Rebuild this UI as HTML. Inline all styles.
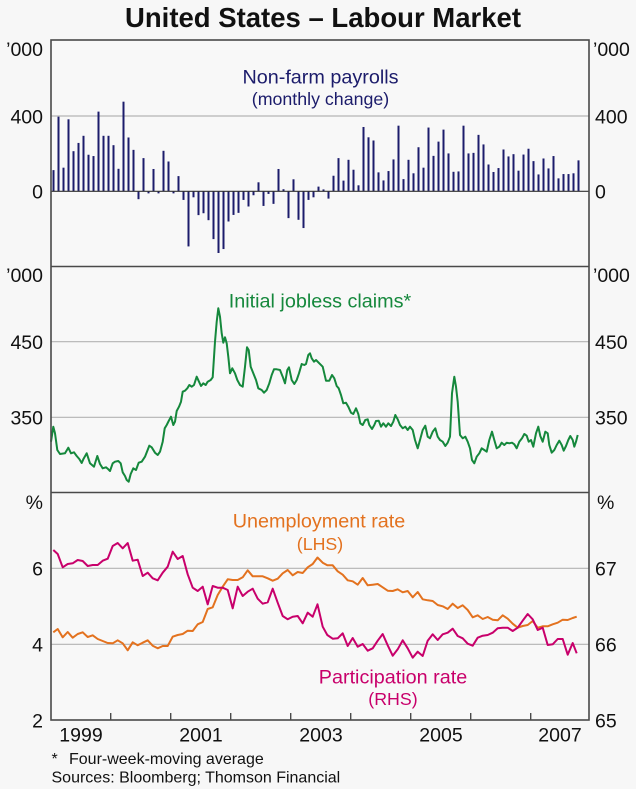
<!DOCTYPE html>
<html>
<head>
<meta charset="utf-8">
<style>
html,body{margin:0;padding:0;background:#f7f7f7;}
svg{display:block;}
text{font-family:"Liberation Sans",Arial,sans-serif;}
</style>
</head>
<body>
<svg width="636" height="789" viewBox="0 0 636 789" xmlns="http://www.w3.org/2000/svg">
<rect x="0" y="0" width="636" height="789" fill="#f7f7f7"/>
<rect x="51" y="40" width="538" height="680" fill="#f8f8f8"/>
<text x="323" y="27" font-size="27.5" font-weight="bold" text-anchor="middle" fill="#111" textLength="396" lengthAdjust="spacingAndGlyphs">United States – Labour Market</text>
<g stroke="#b4b4b4" stroke-width="1.2">
<line x1="51" y1="116" x2="589" y2="116"/>
<line x1="51" y1="341.7" x2="589" y2="341.7"/>
<line x1="51" y1="417.3" x2="589" y2="417.3"/>
<line x1="51" y1="568.3" x2="589" y2="568.3"/>
<line x1="51" y1="644.3" x2="589" y2="644.3"/>
</g>
<g fill="#1c1c6b" transform="translate(0,191.3) scale(1,-0.1875)">
<rect x="52.5" y="0" width="2" height="113"/>
<rect x="57.5" y="0" width="2" height="398"/>
<rect x="62.5" y="0" width="2" height="126"/>
<rect x="67.5" y="0" width="2" height="384"/>
<rect x="72.5" y="0" width="2" height="214"/>
<rect x="77.5" y="0" width="2" height="258"/>
<rect x="82.5" y="0" width="2" height="296"/>
<rect x="87.5" y="0" width="2" height="195"/>
<rect x="92.5" y="0" width="2" height="188"/>
<rect x="97.5" y="0" width="2" height="425"/>
<rect x="102.5" y="0" width="2" height="296"/>
<rect x="107.5" y="0" width="2" height="296"/>
<rect x="112.5" y="0" width="2" height="246"/>
<rect x="117.5" y="0" width="2" height="120"/>
<rect x="122.5" y="0" width="2" height="478"/>
<rect x="127.5" y="0" width="2" height="287"/>
<rect x="132.5" y="0" width="2" height="221"/>
<rect x="137.5" y="-42" width="2" height="42"/>
<rect x="142.5" y="0" width="2" height="177"/>
<rect x="147.5" y="-11" width="2" height="11"/>
<rect x="152.5" y="0" width="2" height="119"/>
<rect x="157.5" y="-11" width="2" height="11"/>
<rect x="162.5" y="0" width="2" height="216"/>
<rect x="167.5" y="0" width="2" height="159"/>
<rect x="172.5" y="-11" width="2" height="11"/>
<rect x="177.5" y="0" width="2" height="81"/>
<rect x="182.5" y="-46" width="2" height="46"/>
<rect x="187.5" y="-294" width="2" height="294"/>
<rect x="192.5" y="-32" width="2" height="32"/>
<rect x="197.5" y="-127" width="2" height="127"/>
<rect x="202.5" y="-117" width="2" height="117"/>
<rect x="207.5" y="-154" width="2" height="154"/>
<rect x="212.5" y="-255" width="2" height="255"/>
<rect x="217.5" y="-329" width="2" height="329"/>
<rect x="222.5" y="-308" width="2" height="308"/>
<rect x="227.5" y="-161" width="2" height="161"/>
<rect x="232.5" y="-126" width="2" height="126"/>
<rect x="237.5" y="-115" width="2" height="115"/>
<rect x="242.5" y="-46" width="2" height="46"/>
<rect x="247.5" y="-81" width="2" height="81"/>
<rect x="252.5" y="-21" width="2" height="21"/>
<rect x="257.5" y="0" width="2" height="48"/>
<rect x="262.5" y="-78" width="2" height="78"/>
<rect x="267.5" y="-14" width="2" height="14"/>
<rect x="272.5" y="-67" width="2" height="67"/>
<rect x="277.5" y="0" width="2" height="119"/>
<rect x="282.5" y="0" width="2" height="11"/>
<rect x="287.5" y="-143" width="2" height="143"/>
<rect x="292.5" y="0" width="2" height="64"/>
<rect x="297.5" y="-152" width="2" height="152"/>
<rect x="302.5" y="-196" width="2" height="196"/>
<rect x="307.5" y="-46" width="2" height="46"/>
<rect x="312.5" y="-32" width="2" height="32"/>
<rect x="317.5" y="0" width="2" height="25"/>
<rect x="322.5" y="0" width="2" height="10"/>
<rect x="327.5" y="-39" width="2" height="39"/>
<rect x="332.5" y="0" width="2" height="83"/>
<rect x="337.5" y="0" width="2" height="177"/>
<rect x="342.5" y="0" width="2" height="57"/>
<rect x="347.5" y="0" width="2" height="168"/>
<rect x="352.5" y="0" width="2" height="115"/>
<rect x="357.5" y="0" width="2" height="32"/>
<rect x="362.5" y="0" width="2" height="343"/>
<rect x="367.5" y="0" width="2" height="288"/>
<rect x="372.5" y="0" width="2" height="271"/>
<rect x="377.5" y="0" width="2" height="101"/>
<rect x="382.5" y="0" width="2" height="58"/>
<rect x="387.5" y="0" width="2" height="108"/>
<rect x="392.5" y="0" width="2" height="170"/>
<rect x="397.5" y="0" width="2" height="350"/>
<rect x="402.5" y="0" width="2" height="65"/>
<rect x="407.5" y="0" width="2" height="168"/>
<rect x="412.5" y="0" width="2" height="96"/>
<rect x="417.5" y="0" width="2" height="235"/>
<rect x="422.5" y="0" width="2" height="126"/>
<rect x="427.5" y="0" width="2" height="340"/>
<rect x="432.5" y="0" width="2" height="189"/>
<rect x="437.5" y="0" width="2" height="265"/>
<rect x="442.5" y="0" width="2" height="329"/>
<rect x="447.5" y="0" width="2" height="202"/>
<rect x="452.5" y="0" width="2" height="104"/>
<rect x="457.5" y="0" width="2" height="106"/>
<rect x="462.5" y="0" width="2" height="350"/>
<rect x="467.5" y="0" width="2" height="202"/>
<rect x="472.5" y="0" width="2" height="205"/>
<rect x="477.5" y="0" width="2" height="301"/>
<rect x="482.5" y="0" width="2" height="250"/>
<rect x="487.5" y="0" width="2" height="143"/>
<rect x="492.5" y="0" width="2" height="103"/>
<rect x="497.5" y="0" width="2" height="124"/>
<rect x="502.5" y="0" width="2" height="223"/>
<rect x="507.5" y="0" width="2" height="186"/>
<rect x="512.5" y="0" width="2" height="198"/>
<rect x="517.5" y="0" width="2" height="110"/>
<rect x="522.5" y="0" width="2" height="196"/>
<rect x="527.5" y="0" width="2" height="227"/>
<rect x="532.5" y="0" width="2" height="161"/>
<rect x="537.5" y="0" width="2" height="90"/>
<rect x="542.5" y="0" width="2" height="175"/>
<rect x="547.5" y="0" width="2" height="122"/>
<rect x="552.5" y="0" width="2" height="188"/>
<rect x="557.5" y="0" width="2" height="69"/>
<rect x="562.5" y="0" width="2" height="92"/>
<rect x="567.5" y="0" width="2" height="92"/>
<rect x="572.5" y="0" width="2" height="96"/>
<rect x="577.5" y="0" width="2" height="165"/>
</g>
<line x1="51" y1="191.3" x2="589" y2="191.3" stroke="#333" stroke-width="1.2"/>
<polyline fill="none" stroke="#15883c" stroke-width="2" stroke-linejoin="round" points="51,441.7 53.3,426.7 55,433.3 57.3,450 60,454 65,453.3 68.3,447.7 71,453.3 74,452.3 76.7,456 79.3,459 81.7,463 83.3,459.3 86.7,453.3 90,463.3 94,466.7 97.3,456 100,464 102.7,468.3 106,467.3 108.3,469.3 110,471 112.7,463.3 115,461.7 118.3,461 120.7,463.3 122.7,472.3 125,476 126.7,480 128.7,481.7 130.7,474 133.3,468.3 136,470 138.7,462.7 141.7,461.7 145,456.7 149.3,445.7 151.7,447.3 155,452.7 157.7,455 160,451.7 162.7,441.7 164.7,428.3 166.7,425 168.7,421 171,416.7 173.3,425 175,421.7 176.7,411 179,406.7 181,401.7 182.7,391.7 185,390.7 187.3,388.3 189.3,385 191.7,386.7 194,385 196.7,376.7 199,381.7 201,386 203.3,383.3 205.7,385 207.7,381.7 210.7,380 212.7,377.3 215,341.7 216.7,321.7 218.3,308.3 220,316.7 221.7,333.3 223.3,342.7 225,337.3 226.7,343.3 228.3,356.7 230,373.3 232.3,368.3 235,373.3 237.3,380 240,385 242.7,386.7 245,366.7 247,347.3 248.7,350 250.7,366.7 253.3,373.3 256,380 258.3,388.3 261.7,390 264,392.7 266.7,390 269.3,383.3 271.7,375 274,369.3 276.7,369.3 280,370 282.7,376.7 285,383.3 287.3,370 289,367.3 291.7,380 294.3,384 296.7,380 299,373.3 301.7,364 304.3,365 306,364 308.3,355 310,353.3 311.7,358.3 314,361.7 316,360 319.3,363.3 322.7,366.7 326,380.7 329.3,380.7 332,375 334.3,378.3 336.7,386 338.7,388.3 341,395 343.3,403.3 346,402.7 348.3,406.7 351,412.7 353.3,414 356,408.3 358.3,414 360.3,423.3 362.7,425 365.3,420 367.7,419.3 369.3,425 372,429 374.3,425 376,421 378.7,420.7 381,426.7 383.3,423.3 386,426.7 388.3,423.3 391,426 393.3,421.7 395.3,415 397.7,419.3 400,425 402.7,428.3 405.3,426.7 407.7,430 410,426.7 412.7,430 415,440 417.7,448.3 420,440 422.7,430 425.3,425.7 427.7,436.7 430,438.3 432.7,431.7 435.3,428.3 437.7,436.7 440,440 442.7,441.7 445.3,446 447.7,442.7 450,436.7 452,393.3 454.3,376.7 456,386.7 457.7,401.7 460,435 462.7,438.3 465.3,436.7 467.7,441.7 470,448.3 472,460 474.3,463.3 476.7,456.7 479.3,453.3 481.7,448.3 484.3,450 486.7,451.7 489.3,440 492,431.7 494.3,440 496.7,448.3 499.3,446.7 501.7,442.7 504.3,445 506.7,442.7 509.3,443.3 512,442.7 514.3,444.3 516.7,448.3 519.3,441.7 522,438.3 524.3,434 526.7,435.7 528.7,441.7 531,440 533.3,446.7 536,433.3 538.3,426.7 540.3,436 542.7,441.7 545.3,431.7 547.7,433.3 549.3,445 551.7,452.7 554.3,450 556.7,445 559.3,440.7 561.7,445 563.7,450.7 566,446 568.3,440 570.3,436 572.7,440 574.3,446.7 576,441.7 577.7,435"/>
<polyline fill="none" stroke="#e3721f" stroke-width="2" stroke-linejoin="round" points="53.3,632.3 57.7,629 62.7,637.3 67.7,632 72.7,637.7 77.7,634 82.7,632.3 87.7,637 92.7,635.3 97.7,639 102.7,641 107.7,643 112.7,643.3 117.7,640.3 122.7,643.3 127.7,650.3 132.7,642.3 137.7,645.3 142.7,642.7 147.7,640.3 152.7,645.7 157.7,648.3 162.7,646 167.7,646 172.7,636.7 177.7,635 182.7,634 187.7,630.7 192.7,631 197.7,624.3 202.7,622 207.7,609 212.7,607.3 217.7,595 222.7,586.7 227.7,579.3 232.7,580 237.7,580 242.7,577.3 247.7,570.3 252.7,576.3 257.7,576.3 262.7,576.3 267.7,578.3 272.7,580.7 277.7,578.7 282.7,573.3 287.7,570 292.7,575.3 297.7,572 302.7,573 307.7,567.3 312.7,564 317.5,557.5 322.7,562.7 327.3,565.3 332.7,565.3 337.7,571.3 342.7,574.7 347.7,580.3 352.7,581.3 357.7,584.7 362.7,578 367.7,585.3 372.7,584.7 377.7,584 382.7,587.3 387.7,590.7 392.7,591 397.7,589.3 402.7,592.3 407.7,591 412.7,597.3 417.7,592 422.7,599.3 427.7,600.3 432.7,601 437.7,605 442.7,606.3 447.7,609 452.7,603.7 457.7,608 462.7,605.3 467.7,610 472.7,617.3 477.7,615.3 482.7,619 487.7,617 492.7,619.7 497.7,620.3 502.7,615.3 507.7,618.7 512.7,623.7 517.7,627.7 522.7,626 527.7,625 532.7,621 537.7,627.7 542.7,626.3 547.7,626.3 552.7,624.3 557.7,622.7 562.7,619.7 567.7,620 572.7,618 576.7,616.7"/>
<polyline fill="none" stroke="#c8006b" stroke-width="2" stroke-linejoin="round" points="53.3,550 57.7,554 62.7,567.3 67.7,564 72.7,563.3 77.7,560 82.7,561 87.7,566 92.7,565 97.7,565 102.7,560.7 107.7,558.7 112.7,546 117.7,543 122.7,548.3 127.7,543 132.7,560.7 137.7,559.7 142.7,576 147.7,572.7 152.7,578.3 157.7,580.3 162.7,572.7 167.7,566.7 172.7,551.7 177.7,559 182.7,556 187.7,574.3 192.7,587.7 197.7,591 202.7,586.7 207.7,604.3 212.7,586 217.7,587.7 222.7,587.7 227.7,590 232.7,608.3 237.7,586.7 242.7,596 247.7,591.7 252.7,588.7 257.7,598.7 262.7,603.7 267.7,602.3 272.7,588.7 277.7,602.7 282.7,616 287.7,619.3 292.7,616.7 297.7,616 302.7,623.3 307.7,612.7 312.7,616.7 317.5,604.3 322.7,626.7 327.3,635 332.7,638.7 337.7,638.3 342.7,633.3 347.7,646 352.7,638 357.7,646.7 362.7,644 367.7,650.7 372.7,648.3 377.7,640.7 382.7,634 387.7,645.3 392.7,655.7 397.7,649.3 402.7,640.3 407.7,648.3 412.7,657.7 417.7,651.7 422.7,656 427.7,640.7 432.7,634.3 437.7,640 442.7,634.3 447.7,632.7 452.7,628.7 457.7,636 462.7,638.3 467.7,643.7 472.7,645.7 477.7,637.7 482.7,635.7 487.7,635 492.7,632.7 497.7,628.3 502.7,627.7 507.7,627.7 512.7,631 517.7,627.7 522.7,620.7 527.7,614 532.7,619.3 537.7,630 542.7,627.7 547.7,645 552.7,644.3 557.7,639 562.7,639 567.7,654.7 572.7,643 576.7,653.3"/>
<g stroke="#4a4a4a" stroke-width="1.6" fill="none">
<rect x="51" y="40" width="538" height="680"/>
<line x1="51" y1="266.5" x2="589" y2="266.5"/>
<line x1="51" y1="492.5" x2="589" y2="492.5"/>
</g>
<g stroke="#4a4a4a" stroke-width="1.4">
<line x1="110.7" y1="720" x2="110.7" y2="713"/>
<line x1="170.7" y1="720" x2="170.7" y2="713"/>
<line x1="230.7" y1="720" x2="230.7" y2="713"/>
<line x1="290.7" y1="720" x2="290.7" y2="713"/>
<line x1="350.7" y1="720" x2="350.7" y2="713"/>
<line x1="410.7" y1="720" x2="410.7" y2="713"/>
<line x1="470.7" y1="720" x2="470.7" y2="713"/>
<line x1="530.7" y1="720" x2="530.7" y2="713"/>
</g>
<g font-size="19.5" fill="#111">
<g text-anchor="end">
<text x="43" y="56">’000</text>
<text x="43" y="123.5">400</text>
<text x="43" y="198.5">0</text>
<text x="43" y="282">’000</text>
<text x="43" y="349">450</text>
<text x="43" y="424.5">350</text>
<text x="43" y="509">%</text>
<text x="43" y="575.5">6</text>
<text x="43" y="651.5">4</text>
<text x="43" y="727.5">2</text>
</g>
<g text-anchor="start">
<text x="593" y="56">’000</text>
<text x="595" y="123.5">400</text>
<text x="595" y="198.5">0</text>
<text x="593" y="282">’000</text>
<text x="595" y="349">450</text>
<text x="595" y="424.5">350</text>
<text x="597" y="509">%</text>
<text x="595" y="575.5">67</text>
<text x="595" y="651.5">66</text>
<text x="595" y="727.5">65</text>
</g>
<g text-anchor="middle">
<text x="81" y="741.7">1999</text>
<text x="201" y="741.7">2001</text>
<text x="321" y="741.7">2003</text>
<text x="441" y="741.7">2005</text>
<text x="560" y="741.7">2007</text>
</g>
</g>
<text x="320.5" y="83.3" font-size="19.8" text-anchor="middle" fill="#1c1c6b">Non-farm payrolls</text>
<text x="320.5" y="105" font-size="17.8" text-anchor="middle" fill="#1c1c6b">(monthly change)</text>
<text x="320" y="307.7" font-size="19.8" text-anchor="middle" fill="#15883c">Initial jobless claims*</text>
<text x="319" y="527.3" font-size="19.8" text-anchor="middle" fill="#e3721f">Unemployment rate</text>
<text x="320" y="550" font-size="17.8" text-anchor="middle" fill="#e3721f">(LHS)</text>
<text x="393" y="683.3" font-size="19.8" text-anchor="middle" fill="#c8006b">Participation rate</text>
<text x="393" y="705" font-size="17.8" text-anchor="middle" fill="#c8006b">(RHS)</text>
<g font-size="16" fill="#111">
<text x="51.5" y="764">*</text>
<text x="69" y="764">Four-week-moving average</text>
<text x="51.5" y="782.7">Sources: Bloomberg; Thomson Financial</text>
</g>
</svg>
</body>
</html>
